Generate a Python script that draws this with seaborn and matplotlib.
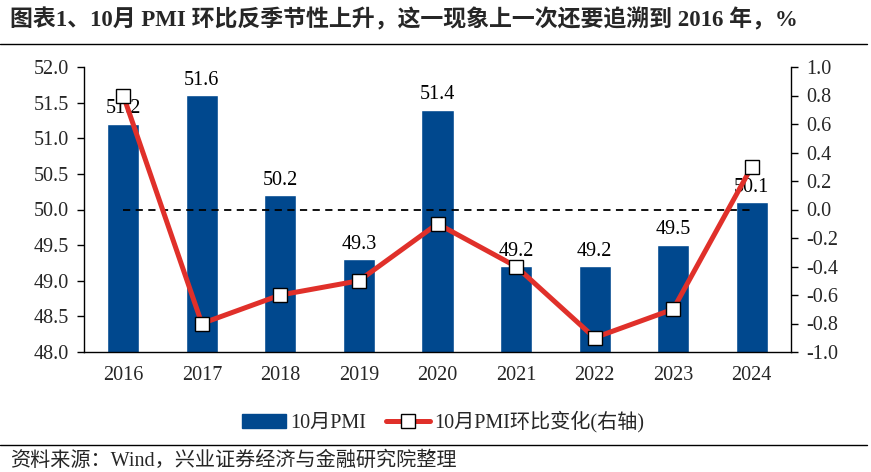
import numpy as np
import pandas as pd
import matplotlib
matplotlib.use("Agg")
import matplotlib.pyplot as plt
import seaborn as sns
from matplotlib.lines import Line2D
from matplotlib.patches import Patch

years = ["2016", "2017", "2018", "2019", "2020", "2021", "2022", "2023", "2024"]
pmi = [51.2, 51.6, 50.2, 49.3, 51.4, 49.2, 49.2, 49.5, 50.1]
mom = [0.8, -0.8, -0.6, -0.5, -0.1, -0.4, -0.9, -0.7, 0.3]
left_ticks = [48.0, 48.5, 49.0, 49.5, 50.0, 50.5, 51.0, 51.5, 52.0]
right_ticks = [-1.0, -0.8, -0.6, -0.4, -0.2, 0.0, 0.2, 0.4, 0.6, 0.8, 1.0]

sns.set_theme(style="white")
FAM = ["Liberation Serif", "Noto Sans CJK SC"]
plt.rcParams["font.family"] = FAM
plt.rcParams["axes.unicode_minus"] = False

BLUE = "#00488E"
RED = "#E0302A"
FS = 14.5

df = pd.DataFrame({"year": years, "pmi": pmi, "mom": mom, "pos": np.arange(len(years))})

fig = plt.figure(figsize=(8.71, 4.72), dpi=100)
ax = fig.add_axes([84 / 871, 1 - 352 / 472, (791 - 84) / 871, (352 - 67) / 472])

sns.barplot(data=df, x="year", y="pmi", color=BLUE, width=0.41, ax=ax, saturation=1)
ax.set_ylim(48, 52)
ax.set_xlim(-0.5, len(years) - 0.5)
ax.set_yticks(left_ticks)
ax.set_yticklabels([f"{v:.1f}" for v in left_ticks], fontsize=FS)
ax.set_xticklabels(years, fontsize=FS)
ax.set_xlabel("")
ax.set_ylabel("")
for i, v in enumerate(pmi):
    ax.text(i, v + 0.08, f"{v:.1f}", ha="center", va="bottom", fontsize=FS, color="black")

ax2 = ax.twinx()
ax2.plot([0, len(years) - 1], [0, 0], ls=(0, (4, 3)), color="black", lw=1.3, zorder=2)
sns.lineplot(data=df, x="pos", y="mom", ax=ax2, color=RED, lw=3.6, marker="s",
             markersize=9.5, markerfacecolor="white", markeredgecolor="black",
             markeredgewidth=1.0, zorder=3)
ax2.set_ylim(-1.0, 1.0)
ax2.set_yticks(right_ticks)
ax2.set_yticklabels([f"{v:.1f}" for v in right_ticks], fontsize=FS)
ax2.set_xlabel("")
ax2.set_ylabel("")
ax2.set_xlim(-0.5, len(years) - 0.5)

for a in (ax, ax2):
    for s in a.spines.values():
        s.set_visible(False)
    a.grid(False)
ax.spines["left"].set_visible(True)
ax.spines["bottom"].set_visible(True)
ax2.spines["right"].set_visible(True)
for s in ("left", "bottom"):
    ax.spines[s].set_color("black")
    ax.spines[s].set_linewidth(1.0)
ax2.spines["right"].set_color("black")
ax2.spines["right"].set_linewidth(1.0)
ax.tick_params(axis="y", direction="out", length=5, width=1, color="black", left=True, pad=6)
ax.tick_params(axis="x", length=0, pad=10)
ax2.tick_params(axis="y", direction="out", length=5, width=1, color="black", right=True, pad=6)

handles = [
    Patch(facecolor=BLUE, edgecolor=BLUE, label="10月PMI"),
    Line2D([0], [0], color=RED, lw=3.6, marker="s", markersize=9.5, markerfacecolor="white",
           markeredgecolor="black", label="10月PMI环比变化(右轴)"),
]
fig.legend(handles=handles, loc="center", bbox_to_anchor=(443 / 871, 1 - 422 / 472), ncol=2,
           frameon=False, fontsize=FS, handlelength=2.2, columnspacing=1.0, handletextpad=0.2)

fig.text(0.012, 1 - 20 / 472, "图表1、10月 PMI 环比反季节性上升，这一现象上一次还要追溯到 2016 年，%",
         fontsize=16.5, fontweight="bold", va="center", ha="left", family=FAM)
fig.add_artist(Line2D([0.0, 0.995], [1 - 44 / 472, 1 - 44 / 472], color="black", lw=1.0))
fig.add_artist(Line2D([0.0, 0.995], [1 - 445 / 472, 1 - 445 / 472], color="black", lw=1.0))
fig.text(0.012, 1 - 461 / 472, "资料来源：Wind，兴业证券经济与金融研究院整理", fontsize=14.5,
         va="center", ha="left", family=FAM)

fig.savefig("out.png", dpi=100)
